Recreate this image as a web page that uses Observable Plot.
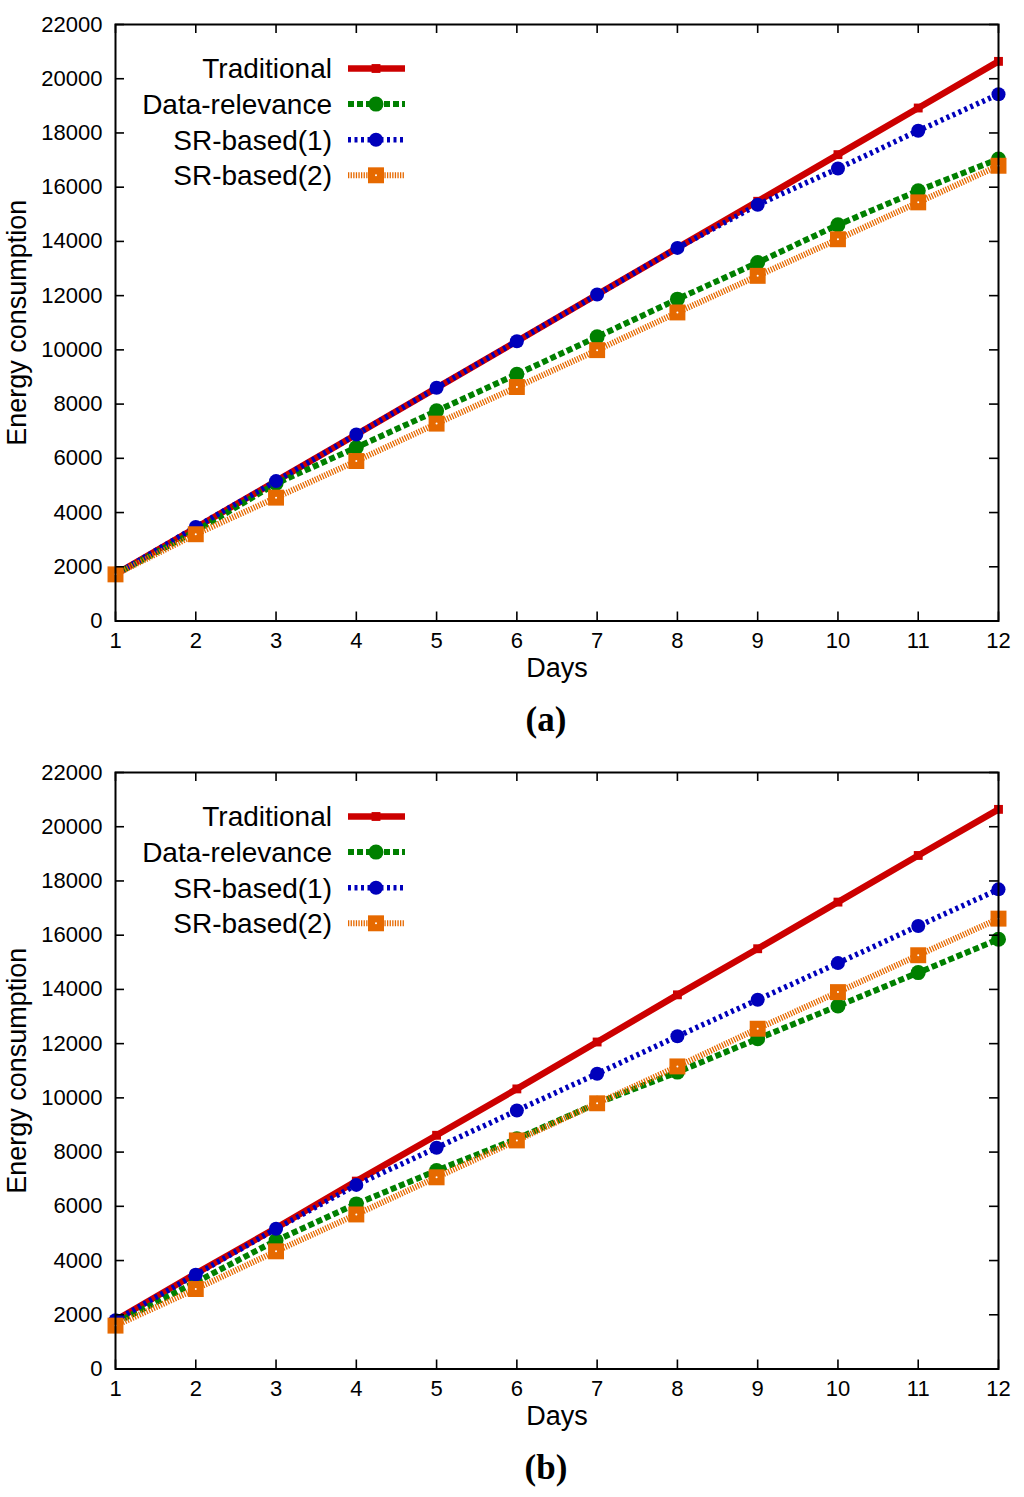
<!DOCTYPE html>
<html><head><meta charset="utf-8">
<script src="https://cdn.jsdelivr.net/npm/d3@7"></script>
<script src="https://cdn.jsdelivr.net/npm/@observablehq/plot@0.6"></script>
<style>
body{margin:0;background:#fff;font-family:"Liberation Sans",Arial,sans-serif;}
#wrap{position:relative;width:1024px;height:1497px;overflow:hidden;background:#fff;}
.panel{position:absolute;left:0;}
.legend{position:absolute;left:0;pointer-events:none;}
.cap{position:absolute;left:446px;width:200px;height:44px;line-height:44px;text-align:center;font-family:"Liberation Serif","Times New Roman",serif;font-weight:bold;font-size:35px;color:#000;}
</style></head><body><div id="wrap"></div>
<script>
// ---------- data ----------
const days = [1,2,3,4,5,6,7,8,9,10,11,12];
const yTicks = [0,2000,4000,6000,8000,10000,12000,14000,16000,18000,20000,22000];
const seriesNames = ["Traditional","Data-relevance","SR-based(1)","SR-based(2)"];
const panelCaptions = ["(a)","(b)"];
const xLabel = "Days";
const yLabel = "Energy consumption";

// panel (a)
const aTraditional   = [1720,3440,5160,6880,8600,10320,12040,13760,15480,17200,18920,20640];
const aDataRelevance = [1720,3320,5070,6400,7750,9100,10480,11870,13220,14610,15870,17040];
const aSR1           = [1720,3470,5160,6880,8600,10320,12040,13760,15350,16690,18080,19430];
const aSR2           = [1720,3200,4550,5900,7280,8630,9990,11380,12730,14080,15440,16790];
// panel (b)
const bTraditional   = [1800,3520,5200,6930,8620,10330,12060,13800,15500,17220,18940,20640];
const bDataRelevance = [1700,3200,4740,6090,7320,8490,9800,10950,12180,13390,14620,15850];
const bSR1           = [1800,3480,5170,6790,8160,9535,10890,12270,13620,14970,16340,17690];
const bSR2           = [1600,2950,4340,5700,7070,8430,9800,11160,12550,13900,15260,16610];

// ---------- styles ----------
const styles = [
  {color:"#cc0000", width:6.5, dash:null,      symbol:"square", r:5,   center:false},
  {color:"#008000", width:6,   dash:"6,3",     symbol:"circle", r:7.5, center:false},
  {color:"#0000bb", width:5.5, dash:"3,3.5",   symbol:"circle", r:7,   center:false},
  {color:"#e66900", width:6,   dash:"1.3,1.3", symbol:"square", r:9,   center:true}
];

const W = 1024, H = 690, mT = 24, mB = 69.5, mL = 115, mR = 26;
const plotW = W - mL - mR, plotH = H - mT - mB;
const tickLen = 9;

function makePanel(seriesVals) {
  const marks = [];
  seriesNames.forEach((name, i) => {
    const data = days.map((d, j) => ({series: name, day: d, value: seriesVals[i][j]}));
    const st = styles[i];
    marks.push(Plot.line(data, {x:"day", y:"value", stroke: st.color, strokeWidth: st.width,
      strokeDasharray: st.dash, strokeLinecap:"butt", strokeLinejoin:"miter"}));
    marks.push(Plot.dot(data, {x:"day", y:"value", symbol: st.symbol, r: st.r, fill: st.color, stroke:"none"}));
    if (st.center) marks.push(Plot.dot(data, {x:"day", y:"value", r:1, fill:"white", stroke:"none"}));
  });
  return Plot.plot({
    width: W, height: H,
    marginTop: mT, marginBottom: mB, marginLeft: mL, marginRight: mR,
    style: {fontFamily: '"Liberation Sans", Arial, sans-serif', fontSize: "22px", color: "#000", background: "transparent", overflow: "visible"},
    x: {domain: [1, 12]},
    y: {domain: [0, 22000]},
    marks: [
      ...marks,
      Plot.frame({stroke: "#000", strokeWidth: 2}),
      // inward ticks on all four sides
      Plot.ruleX(days, {x: d => d, stroke:"#000", strokeWidth:1.6, insetTop: plotH - tickLen}),
      Plot.ruleX(days, {x: d => d, stroke:"#000", strokeWidth:1.6, insetBottom: plotH - tickLen}),
      Plot.ruleY(yTicks, {y: d => d, stroke:"#000", strokeWidth:1.6, insetRight: plotW - tickLen}),
      Plot.ruleY(yTicks, {y: d => d, stroke:"#000", strokeWidth:1.6, insetLeft: plotW - tickLen}),
      Plot.axisX(days, {tickSize: 0, tickPadding: 11, fontSize: 22, tickFormat: d => String(d), label: null}),
      Plot.axisY(yTicks, {tickSize: 0, tickPadding: 13, fontSize: 22, tickFormat: d => String(d), label: null}),
      Plot.text([xLabel], {text: d => d, frameAnchor: "bottom", dy: 47, fontSize: 27, lineAnchor: "middle", textAnchor: "middle"}),
      Plot.text([yLabel], {text: d => d, frameAnchor: "left", dx: -98, rotate: -90, fontSize: 27, lineAnchor: "middle", textAnchor: "middle"})
    ]
  });
}

function makeLegend() {
  const svg = d3.create("svg").attr("width", 460).attr("height", 200).attr("class", "legend")
    .style("font-family", '"Liberation Sans", Arial, sans-serif');
  seriesNames.forEach((name, i) => {
    const st = styles[i];
    const cy = 68.5 + i * 35.6;
    svg.append("text").attr("x", 332).attr("y", cy).attr("text-anchor", "end")
      .attr("dy", "0.35em").attr("font-size", 28).attr("fill", "#000").text(name);
    svg.append("line").attr("x1", 348).attr("x2", 405).attr("y1", cy).attr("y2", cy)
      .attr("stroke", st.color).attr("stroke-width", st.width)
      .attr("stroke-dasharray", st.dash).attr("stroke-linecap", "butt");
    const sym = st.symbol === "square" ? d3.symbolSquare : d3.symbolCircle;
    svg.append("path").attr("transform", `translate(376,${cy})`)
      .attr("d", d3.symbol(sym, st.r * st.r * Math.PI)()).attr("fill", st.color);
    if (st.center) svg.append("circle").attr("cx", 376).attr("cy", cy).attr("r", 1).attr("fill", "white");
  });
  return svg.node();
}

const wrap = document.getElementById("wrap");
const panels = [
  {vals: [aTraditional, aDataRelevance, aSR1, aSR2], top: 0},
  {vals: [bTraditional, bDataRelevance, bSR1, bSR2], top: 748}
];
panels.forEach((p, k) => {
  const div = document.createElement("div");
  div.className = "panel"; div.style.top = p.top + "px";
  div.appendChild(makePanel(p.vals));
  wrap.appendChild(div);
  const leg = makeLegend();
  leg.style.top = p.top + "px";
  wrap.appendChild(leg);
  const cap = document.createElement("div");
  cap.className = "cap"; cap.style.top = (p.top + 698) + "px";
  cap.textContent = panelCaptions[k];
  wrap.appendChild(cap);
});
</script></body></html>
